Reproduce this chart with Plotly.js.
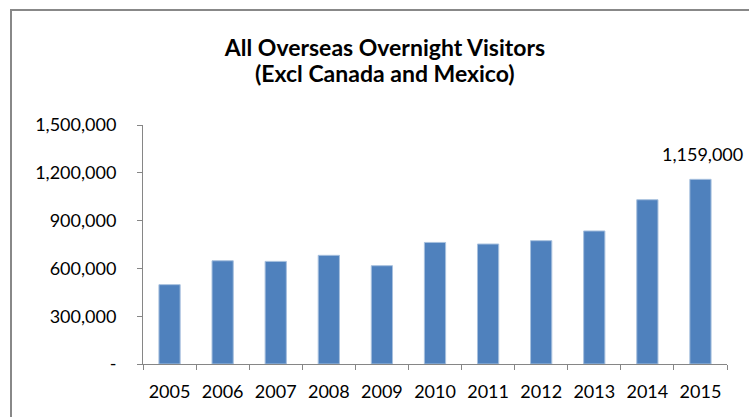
<!DOCTYPE html>
<html>
<head>
<meta charset="utf-8">
<script src="https://cdn.plot.ly/plotly-3.0.1.min.js"></script>
<style>html,body{margin:0;padding:0;background:#fff;}#chart{width:749px;height:417px;}</style>
</head>
<body>
<div id="chart"></div>
<script>
const years = ['2005','2006','2007','2008','2009','2010','2011','2012','2013','2014','2015'];
const visitors = [498000, 648000, 644000, 682000, 617000, 763000, 753000, 774000, 835000, 1031000, 1159000];
const yTickVals = [0, 300000, 600000, 900000, 1200000, 1500000];
const yTickText = ['-', '300,000', '600,000', '900,000', '1,200,000', '1,500,000'];
const labelText = '1,159,000';
const titleLine1 = 'All Overseas Overnight Visitors';
const titleLine2 = '(Excl Canada and Mexico)';

const font = 'Lato, "Open Sans", sans-serif';

const trace = {
  type: 'bar',
  x: years,
  y: visitors,
  marker: {color: '#4F81BD', line: {color: '#A7C0DE', width: 1}},
  hoverinfo: 'x+y'
};

const layout = {
  width: 749,
  height: 417,
  margin: {l: 143, r: 22, t: 125, b: 53},
  paper_bgcolor: '#ffffff',
  plot_bgcolor: '#ffffff',
  showlegend: false,
  bargap: 0.6,
  font: {family: font, size: 18, color: '#000'},
  title: {
    text: '<b>' + titleLine1 + '</b>',
    font: {family: font, size: 23, color: '#000'},
    x: 0.514, xanchor: 'center',
    y: 1 - 48 / 417, yanchor: 'middle', yref: 'container'
  },
  xaxis: {
    type: 'category',
    range: [-0.5, years.length - 0.5],
    tickangle: 0,
    showline: true, linecolor: '#868686', linewidth: 1,
    ticks: 'outside', tickson: 'boundaries', ticklen: 5, tickcolor: '#868686',
    ticklabelstandoff: 11,
    showgrid: false, zeroline: false,
    tickfont: {family: font, size: 18, color: '#000'}
  },
  yaxis: {
    range: [0, 1500000],
    tickvals: yTickVals, ticktext: yTickText,
    showline: true, linecolor: '#868686', linewidth: 1,
    ticks: 'outside', ticklen: 5, tickcolor: '#868686',
    ticklabelstandoff: 17,
    showgrid: false, zeroline: false,
    tickfont: {family: font, size: 18, color: '#000'}
  },
  annotations: [{
    x: years.length - 1, y: visitors[visitors.length - 1],
    xref: 'x', yref: 'y',
    text: labelText, showarrow: false,
    yanchor: 'bottom', yshift: 12, xshift: 2,
    font: {family: font, size: 18, color: '#000'}
  }, {
    x: 0.514, y: 1 - 73 / 417, xref: 'paper', yref: 'paper',
    text: '<b>' + titleLine2 + '</b>', showarrow: false,
    xanchor: 'center', yanchor: 'middle',
    font: {family: font, size: 23, color: '#000'}
  }],
  shapes: [{
    type: 'rect', xref: 'paper', yref: 'paper',
    x0: (11 - 143) / 584, x1: 1.3,
    y0: -0.5, y1: (364 - 10) / 239,
    line: {color: '#888888', width: 2},
    fillcolor: 'rgba(0,0,0,0)',
    layer: 'below'
  }]
};
// second title line positioned in paper units of the plot area
layout.annotations[1].x = (385 - 143) / 584;
layout.annotations[1].y = (364 - 73) / 239;

Plotly.newPlot('chart', [trace], layout, {displayModeBar: false, staticPlot: true});
</script>
</body>
</html>
